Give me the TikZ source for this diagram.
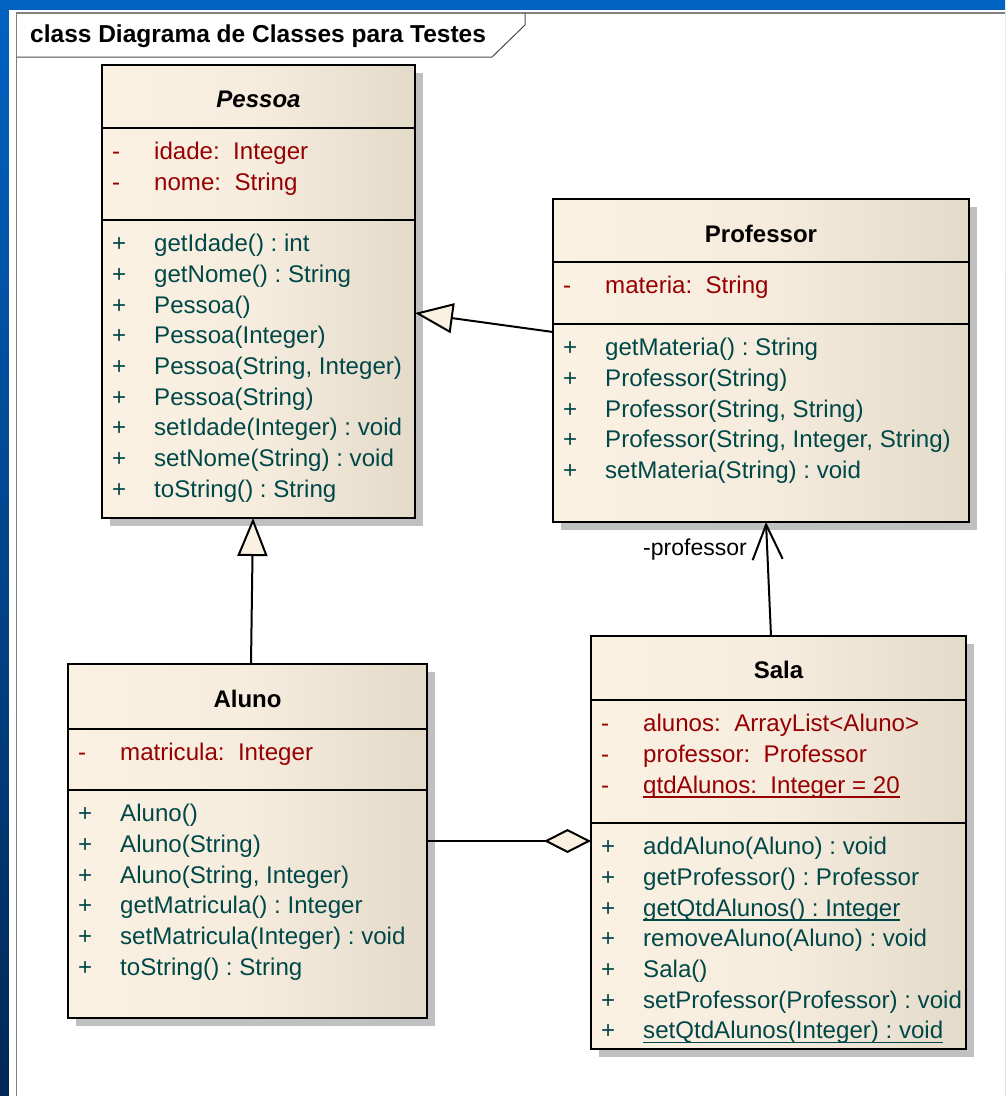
\documentclass[tikz,border=0pt]{standalone}
\usepackage{xcolor}
\usepackage{fontspec}
\setmainfont{Liberation Sans}
\usepackage{tikz}
\usetikzlibrary{arrows.meta, positioning, shadows}

\definecolor{umlred}{RGB}{150,0,0}
\definecolor{umlteal}{RGB}{0,72,72}
\definecolor{umllight}{RGB}{251,241,227}
\definecolor{umldark}{RGB}{227,218,202}
\definecolor{umlshadow}{RGB}{192,192,192}
\definecolor{slideblue}{RGB}{0,98,194}
\definecolor{slidenavy}{RGB}{0,40,86}

\newsavebox{\ulbox}
\newcommand{\ulin}[1]{\sbox{\ulbox}{#1}\rlap{\rule[-4.5pt]{\wd\ulbox}{1.8pt}}\usebox{\ulbox}}
\newcommand{\uattr}[1]{\strut\makebox[42pt][l]{-}#1}
\newcommand{\uop}[1]{\strut\makebox[42pt][l]{+}#1}

\begin{document}
\begin{tikzpicture}[
      x=1pt, y=-1pt,
      umlclass/.style={draw, line width=2.3pt, inner sep=0pt, outer sep=0pt,
                       left color=umllight, right color=umldark,
                       middle color=umllight!80!umldark,
                       drop shadow={shadow xshift=8pt, shadow yshift=-8pt,
                                    fill=umlshadow, opacity=1}},
      ctitle/.style={font=\fontsize{24}{29}\selectfont\bfseries, inner sep=0pt},
      members/.style={anchor=north west, inner sep=0pt, align=left,
                      font=\fontsize{24.1}{30.7}\selectfont\frenchspacing},
      attrs/.style={members, text=umlred},
      ops/.style={members, text=umlteal},
      divider/.style={line width=2pt},
      gen/.style={-{Triangle[length=38pt, width=30pt, fill=umllight]}, line width=2pt},
      assoc/.style={-{Straight Barb[length=35pt, width=30pt]}, line width=2pt},
      aggr/.style={-{Diamond[length=47pt, width=24pt, fill=umllight]}, line width=2pt},
      lbl/.style={font=\fontsize{23}{28}\selectfont, inner sep=0pt}
    ]
    \useasboundingbox (0,0) rectangle (1005,1096);

    %% ---- slide background and diagram frame ----
    \fill[top color=slideblue, bottom color=slidenavy] (0,0) rectangle (1005,1096);
    \fill[white] (9,10) rectangle (1005,1096);
    \draw[gray, line width=1.5pt] (1005,13) -- (16.5,13) -- (16.5,1096);
    \draw[black!70, line width=1pt] (16.5,57) -- (492,57) -- (525,25) -- (525,13);
    \node[ctitle, font=\fontsize{24.5}{29}\selectfont\bfseries, anchor=base west]
          at (30,42) (frametitle) {class Diagrama de Classes para Testes};

    %% ---- Pessoa ----
    \node[umlclass, minimum width=313pt, minimum height=453pt] at (258.5,291.5) (pessoa) {};
    \node[ctitle] at (258.5,99) (pessoa-t) {\textit{Pessoa}};
    \draw[divider] (pessoa.west |- 0,128) -- (pessoa.east |- 0,128);
    \draw[divider] (pessoa.west |- 0,220) -- (pessoa.east |- 0,220);
    \node[attrs] at (112,138) (pessoa-a)
          {\uattr{idade:\ \ Integer}\\ \uattr{nome:\ \ String}};
    \node[ops] at (112,230) (pessoa-o)
          {\uop{getIdade() : int}\\ \uop{getNome() : String}\\ \uop{Pessoa()}\\
           \uop{Pessoa(Integer)}\\ \uop{Pessoa(String, Integer)}\\ \uop{Pessoa(String)}\\
           \uop{setIdade(Integer) : void}\\ \uop{setNome(String) : void}\\
           \uop{toString() : String}};

    %% ---- Professor ----
    \node[umlclass, minimum width=416pt, minimum height=323pt] at (761,360.5) (professor) {};
    \node[ctitle] at (761,234) (professor-t) {Professor};
    \draw[divider] (professor.west |- 0,262) -- (professor.east |- 0,262);
    \draw[divider] (professor.west |- 0,324) -- (professor.east |- 0,324);
    \node[attrs] at (563,272) (professor-a) {\uattr{materia:\ \ String}};
    \node[ops] at (563,334) (professor-o)
          {\uop{getMateria() : String}\\ \uop{Professor(String)}\\
           \uop{Professor(String, String)}\\ \uop{Professor(String, Integer, String)}\\
           \uop{setMateria(String) : void}};

    %% ---- Aluno ----
    \node[umlclass, minimum width=359pt, minimum height=354pt] at (247.5,841) (aluno) {};
    \node[ctitle] at (247.5,699) (aluno-t) {Aluno};
    \draw[divider] (aluno.west |- 0,729) -- (aluno.east |- 0,729);
    \draw[divider] (aluno.west |- 0,790) -- (aluno.east |- 0,790);
    \node[attrs] at (78,739) (aluno-a) {\uattr{matricula:\ \ Integer}};
    \node[ops] at (78,800) (aluno-o)
          {\uop{Aluno()}\\ \uop{Aluno(String)}\\ \uop{Aluno(String, Integer)}\\
           \uop{getMatricula() : Integer}\\ \uop{setMatricula(Integer) : void}\\
           \uop{toString() : String}};

    %% ---- Sala ----
    \node[umlclass, minimum width=375pt, minimum height=413pt] at (778.5,842.5) (sala) {};
    \node[ctitle] at (778.5,670) (sala-t) {Sala};
    \draw[divider] (sala.west |- 0,700) -- (sala.east |- 0,700);
    \draw[divider] (sala.west |- 0,823) -- (sala.east |- 0,823);
    \node[attrs] at (601,710) (sala-a)
          {\uattr{alunos:\ \ ArrayList<Aluno>}\\ \uattr{professor:\ \ Professor}\\
           \uattr{\ulin{qtdAlunos:\ \ Integer = 20}}};
    \node[ops] at (601,833) (sala-o)
          {\uop{addAluno(Aluno) : void}\\ \uop{getProfessor() : Professor}\\
           \uop{\ulin{getQtdAlunos() : Integer}}\\ \uop{removeAluno(Aluno) : void}\\
           \uop{Sala()}\\ \uop{setProfessor(Professor) : void}\\
           \uop{\ulin{setQtdAlunos(Integer) : void}}};

    %% ---- edges ----

    %% Professor -> Pessoa (generalization)
    \draw[gen] (professor.west |- 0,332) -- (pessoa.east |- 0,313);

    %% Aluno -> Pessoa (generalization)
    \draw[gen] (aluno.north -| 251,0) -- (pessoa.south -| 253,0);

    %% Sala -> Professor (navigable association)
    \draw[assoc] (sala.north -| 771,0) -- (professor.south -| 766,0);
    \node[lbl] at (695,550) (profrole) {-professor};

    %% Aluno <>- Sala (aggregation)
    \draw[aggr] (aluno.east |- 0,841) -- (sala.west |- 0,841);

  \end{tikzpicture}
\end{document}
